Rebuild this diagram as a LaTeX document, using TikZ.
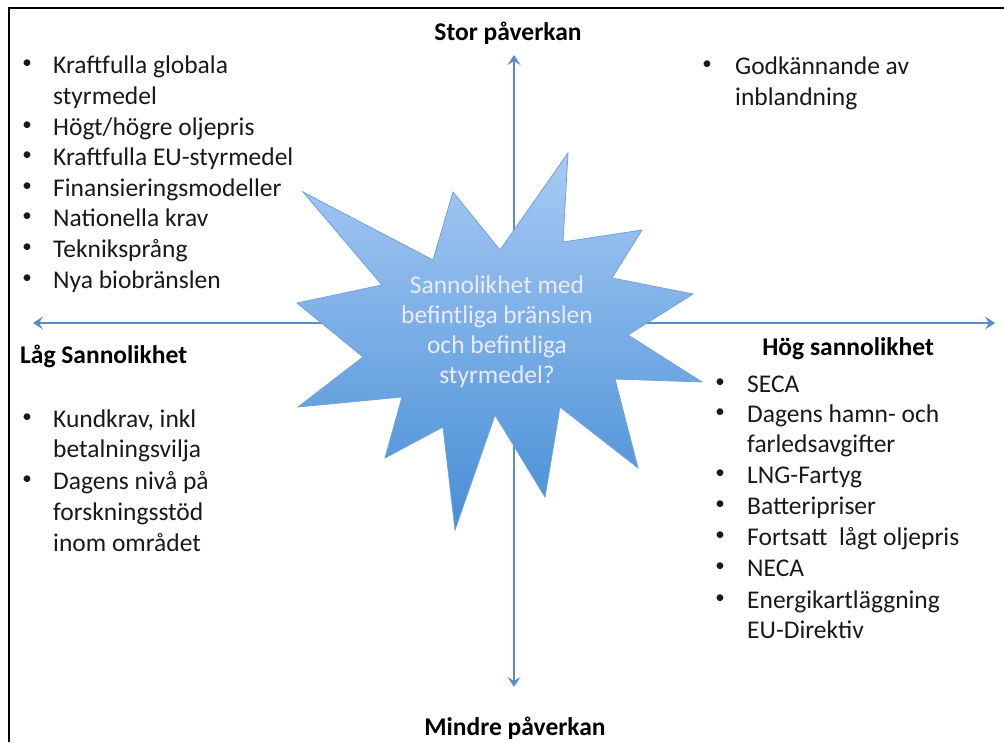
\documentclass[tikz,border=0pt]{standalone}
\usepackage{fontspec}
\setmainfont{Carlito}
\usetikzlibrary{arrows.meta}
\definecolor{axiscol}{RGB}{90,140,200}
\definecolor{startop}{RGB}{168,202,244}
\definecolor{starbot}{RGB}{70,142,214}
\definecolor{starline}{RGB}{115,162,216}
\definecolor{inktext}{RGB}{25,25,25}
\begin{document}
\begin{tikzpicture}[x=1pt,y=-1pt,
  txt/.style={anchor=base west, inner sep=0pt, font=\fontsize{25.5}{30}\selectfont, text=inktext},
  bul/.style={anchor=center, inner sep=0pt, font=\fontsize{19}{22}\selectfont, text=inktext},
  ttl/.style={inner sep=0pt, font=\fontsize{25.5}{30}\selectfont\bfseries, text=black},
  axisline/.style={draw=axiscol, line width=2pt, {Stealth[length=10pt,width=13pt,inset=4pt]}-{Stealth[length=10pt,width=13pt,inset=4pt]}},
  frameline/.style={draw=black, line width=2pt}]
\useasboundingbox (0,0) rectangle (1004,742);
% frame
\draw[frameline] (9,742) -- (9,8) -- (1004,8);
% axes
\coordinate (ytop) at (514,55);
\coordinate (ybot) at (514,687);
\coordinate (xleft) at (33,323);
\coordinate (xright) at (995,323);
\draw[axisline] (xleft) -- (xright);
\draw[axisline] (ytop) -- (ybot);
% star
\shade[top color=startop, bottom color=starbot, draw=starline, line width=0.8pt, line join=miter]
  (303,192) -- (433,260) -- (453,192) -- (500,250) -- (568,153) -- (563,242) -- (642,230)
  -- (612,278) -- (693,294) -- (628,335) -- (702,382) -- (615,379) -- (638,468) -- (560,407)
  -- (545,497) -- (495,415) -- (455,530) -- (443,427) -- (385,458) -- (402,397) -- (298,407)
  -- (363,357) -- (297,303) -- (382,285) -- cycle;
\node[inner sep=0pt, align=center, font=\fontsize{25.5}{30}\selectfont, text=white!92!blue] (star) at (497,332)
  {Sannolikhet med\\befintliga bränslen\\och befintliga\\styrmedel?};
% titles
\node[ttl, anchor=base] (stor) at (508,40) {Stor påverkan};
\node[ttl, anchor=base] (mindre) at (515,735) {Mindre påverkan};
\node[ttl, anchor=base west] (lag) at (20,363) {Låg Sannolikhet};
\node[ttl, anchor=base east] (hog) at (934,355) {Hög sannolikhet};
% top left list
\foreach \t/\y [count=\i] in {{Kraftfulla globala}/73, {styrmedel}/104, {Högt/högre oljepris}/135,
   {Kraftfulla EU-styrmedel}/165, {Finansieringsmodeller}/196, {Nationella krav}/226,
   {Tekniksprång}/257, {Nya biobränslen}/288}
  {\node[txt] (tl\i) at (53,\y) {\t};}
\foreach \y [count=\i] in {73,135,165,196,226,257,288}
  {\node[bul] (tlb\i) at (27,\y-9) {•};}
% top right list
\node[txt] (tr1) at (735,74) {Godkännande av};
\node[txt] (tr2) at (735,105) {inblandning};
\node[bul] (trb1) at (707,74-9) {•};
% bottom left list
\foreach \t/\y [count=\i] in {{Kundkrav, inkl}/427, {betalningsvilja}/457, {Dagens nivå på}/489,
   {forskningsstöd}/520, {inom området}/551}
  {\node[txt] (bl\i) at (53,\y) {\t};}
\node[bul] (blb1) at (27,427-9) {•};
\node[bul] (blb2) at (27,489-9) {•};
% bottom right list
\foreach \t/\y [count=\i] in {{SECA}/392, {Dagens hamn- och}/422, {farledsavgifter}/452,
   {LNG-Fartyg}/483, {Batteripriser}/514, {Fortsatt\ \ lågt oljepris}/545, {NECA}/576,
   {Energikartläggning}/608, {EU-Direktiv}/638}
  {\node[txt] (br\i) at (747,\y) {\t};}
\foreach \y [count=\i] in {392,422,483,514,545,576,608}
  {\node[bul] (brb\i) at (720,\y-9) {•};}
\end{tikzpicture}
\end{document}
